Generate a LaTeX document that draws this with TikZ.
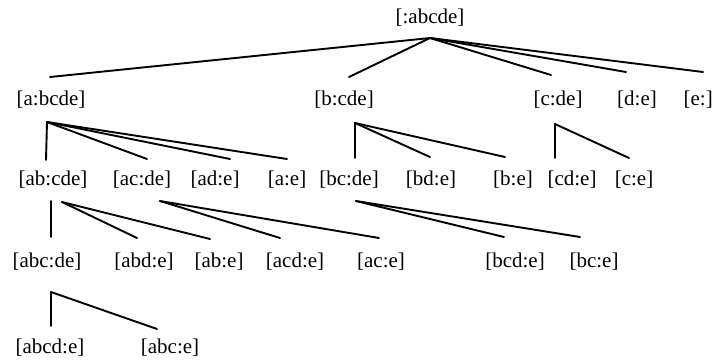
\documentclass[tikz,border=0pt]{standalone}
\usepackage{fontspec}
\setmainfont{Liberation Serif}
\begin{document}
\begin{tikzpicture}[x=1pt,y=-1pt,
  lbl/.style={inner sep=0pt,font=\fontsize{21}{24}\selectfont},
  edge/.style={line width=1.9pt,line cap=round}]
\useasboundingbox (0,0) rectangle (714,359);
% labels
\node[lbl] (r) at (430,18) {[:abcde]};
\node[lbl] (a) at (51,100) {[a:bcde]};
\node[lbl] (b) at (344,100) {[b:cde]};
\node[lbl] (c) at (558,100) {[c:de]};
\node[lbl] (d) at (637,100) {[d:e]};
\node[lbl,anchor=east] (e) at (713,100) {[e:]};
\node[lbl] (ab) at (53,180) {[ab:cde]};
\node[lbl] (ac) at (142,180) {[ac:de]};
\node[lbl] (ad) at (215,180) {[ad:e]};
\node[lbl] (ae) at (287,180) {[a:e]};
\node[lbl] (bc) at (349,180) {[bc:de]};
\node[lbl] (bd) at (431,180) {[bd:e]};
\node[lbl] (be) at (513,180) {[b:e]};
\node[lbl] (cd) at (572,180) {[cd:e]};
\node[lbl] (ce) at (634,180) {[c:e]};
\node[lbl] (abc) at (47,262) {[abc:de]};
\node[lbl] (abd) at (144,262) {[abd:e]};
\node[lbl] (abe) at (219,262) {[ab:e]};
\node[lbl] (acd) at (295,262) {[acd:e]};
\node[lbl] (ace) at (381,262) {[ac:e]};
\node[lbl] (bcd) at (515,262) {[bcd:e]};
\node[lbl] (bce) at (594,262) {[bc:e]};
\node[lbl] (abcd) at (50,348) {[abcd:e]};
\node[lbl] (abce) at (170,348) {[abc:e]};
% connector end points
\coordinate (r-o) at (430,38);
\coordinate (a-i) at (50,77);
\coordinate (b-i) at (349,77);
\coordinate (c-i) at (551,75);
\coordinate (d-i) at (626,72);
\coordinate (e-i) at (703,72);
\coordinate (a-o) at (47,122);
\coordinate (ab-i) at (46,160);
\coordinate (ac-i) at (147,159);
\coordinate (ad-i) at (230,159);
\coordinate (ae-i) at (287,159);
\coordinate (b-o) at (355,123);
\coordinate (bc-i) at (355,158);
\coordinate (bd-i) at (430,157);
\coordinate (be-i) at (505,157);
\coordinate (c-o) at (555,124);
\coordinate (cd-i) at (555,158);
\coordinate (ce-i) at (629,158);
\coordinate (ab-o) at (51,201);
\coordinate (ab-o2) at (62,202);
\coordinate (abc-i) at (51,237);
\coordinate (abd-i) at (137,238);
\coordinate (abe-i) at (210,239);
\coordinate (ac-o) at (160,201);
\coordinate (acd-i) at (280,238);
\coordinate (ace-i) at (379,238);
\coordinate (bc-o) at (356,201);
\coordinate (bcd-i) at (504,237);
\coordinate (bce-i) at (580,237);
\coordinate (abc-o) at (51,292);
\coordinate (abcd-i) at (51,326);
\coordinate (abce-i) at (157,329);
% connectors
\foreach \t in {a,b,c,d,e} \draw[edge] (r-o) -- (\t-i);
\foreach \t in {ab,ac,ad,ae} \draw[edge] (a-o) -- (\t-i);
\foreach \t in {bc,bd,be} \draw[edge] (b-o) -- (\t-i);
\foreach \t in {cd,ce} \draw[edge] (c-o) -- (\t-i);
\draw[edge] (ab-o) -- (abc-i);
\foreach \t in {abd,abe} \draw[edge] (ab-o2) -- (\t-i);
\foreach \t in {acd,ace} \draw[edge] (ac-o) -- (\t-i);
\foreach \t in {bcd,bce} \draw[edge] (bc-o) -- (\t-i);
\draw[edge] (abc-o) -- (abcd-i);
\draw[edge] (abc-o) -- (abce-i);
\end{tikzpicture}
\end{document}
